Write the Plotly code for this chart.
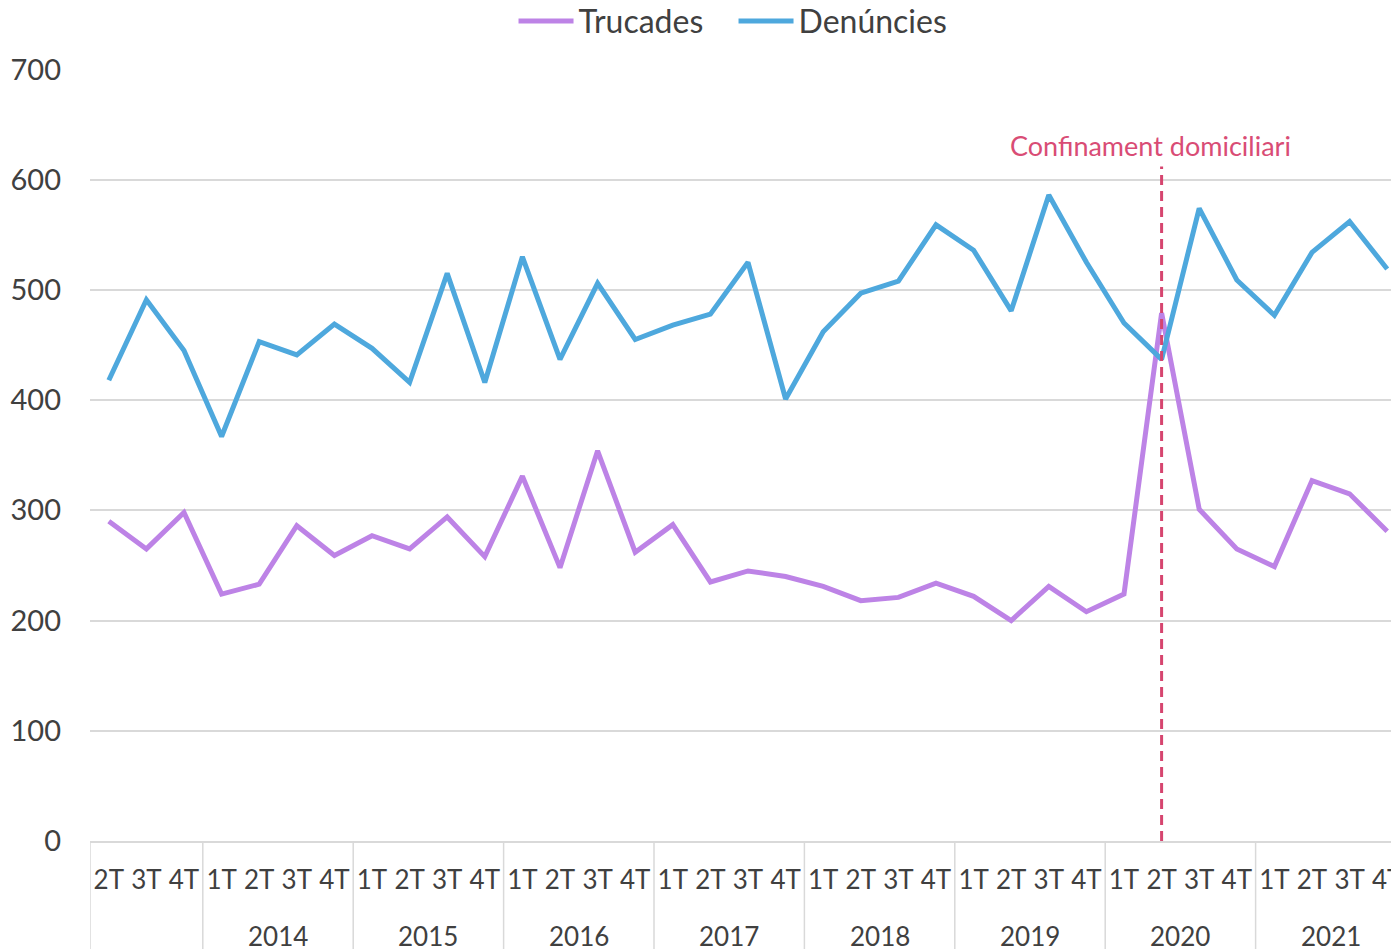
import plotly.graph_objects as go

# first group is a partial year with no label in the original chart
years = [""] * 3 + [y for y in ["2014", "2015", "2016", "2017", "2018", "2019", "2020", "2021"] for _ in range(4)]
quarters = ["2T", "3T", "4T"] + ["1T", "2T", "3T", "4T"] * 8

trucades = [290, 265, 298, 224, 233, 286, 259, 277, 265, 294, 258, 331,
            248, 354, 262, 287, 235, 245, 240, 231, 218, 221, 234, 222,
            200, 231, 208, 224, 479, 301, 265, 249, 327, 315, 281]
denuncies = [418, 491, 445, 367, 453, 441, 469, 447, 416, 515, 416, 530,
             437, 506, 455, 468, 478, 525, 401, 462, 497, 508, 559, 536,
             481, 586, 525, 470, 437, 574, 509, 477, 534, 562, 519]

lockdown_year = "2020"
lockdown_quarter = "2T"
lockdown_top = 612
lockdown_label = "Confinament domiciliari"

font = "Lato, 'Open Sans', sans-serif"
text_color = "#404040"
grid_color = "#d9d9d9"

idx = list(range(len(quarters)))
lockdown_idx = list(zip(years, quarters)).index((lockdown_year, lockdown_quarter))

fig = go.Figure()
fig.add_trace(go.Scatter(
    x=idx, y=trucades, name="Trucades", mode="lines",
    line=dict(color="#bd83e6", width=5),
))
fig.add_trace(go.Scatter(
    x=idx, y=denuncies, name="Denúncies", mode="lines",
    line=dict(color="#4ea8dd", width=5),
))
fig.add_trace(go.Scatter(
    x=[lockdown_idx, lockdown_idx], y=[0, lockdown_top],
    mode="lines", showlegend=False, hoverinfo="skip",
    line=dict(color="#d6456f", width=3, dash="10px,6px"),
))
fig.add_annotation(
    x=lockdown_idx, y=lockdown_top + 20, xref="x", yref="y", xshift=-11,
    yshift=-1, text=lockdown_label, showarrow=False,
    font=dict(family=font, size=27, color="#d94c75"),
)

# year groups: label under the middle of each group, divider at each boundary
groups = []
for i, y in enumerate(years):
    if not groups or groups[-1][0] != y:
        groups.append([y, i, i])
    else:
        groups[-1][2] = i
for y, first, last in groups:
    fig.add_shape(
        type="line", xref="x", yref="paper", x0=first - 0.5, x1=first - 0.5,
        y0=0, y1=-0.2, line=dict(color=grid_color, width=1.5),
    )
    if y:
        fig.add_annotation(
            x=(first + last) / 2, y=0, xref="x", yref="paper", yshift=-95,
            yanchor="middle", text=y, showarrow=False,
            font=dict(family=font, size=26, color=text_color),
        )
fig.add_shape(
    type="line", xref="x", yref="paper", x0=groups[-1][2] + 0.5,
    x1=groups[-1][2] + 0.5, y0=0, y1=-0.2,
    line=dict(color=grid_color, width=1.5),
)

fig.update_layout(
    width=1399, height=949,
    margin=dict(l=82, r=1, t=61, b=116, autoexpand=False),
    paper_bgcolor="white", plot_bgcolor="white",
    font=dict(family=font, size=29, color=text_color),
    legend=dict(
        orientation="h", x=0.489, xanchor="center", y=1.062,
        yanchor="middle", font=dict(size=32), itemwidth=55,
        entrywidth=150,
    ),
)
fig.update_xaxes(
    range=[-0.5, len(quarters) - 0.5], tickvals=idx, ticktext=quarters,
    tickangle=0, ticklabelstandoff=15,
    showline=True, linecolor=grid_color, linewidth=2,
    showgrid=False, zeroline=False,
    tickfont=dict(size=26, color=text_color),
)
fig.update_yaxes(
    range=[0, 700.4], tickvals=[0, 100, 200, 300, 400, 500, 600, 700],
    showgrid=True, gridcolor=grid_color,
    gridwidth=1.5, zeroline=False, showline=False,
    ticklabelstandoff=28, tickfont=dict(size=29, color=text_color),
)

fig.write_html("out.html")
